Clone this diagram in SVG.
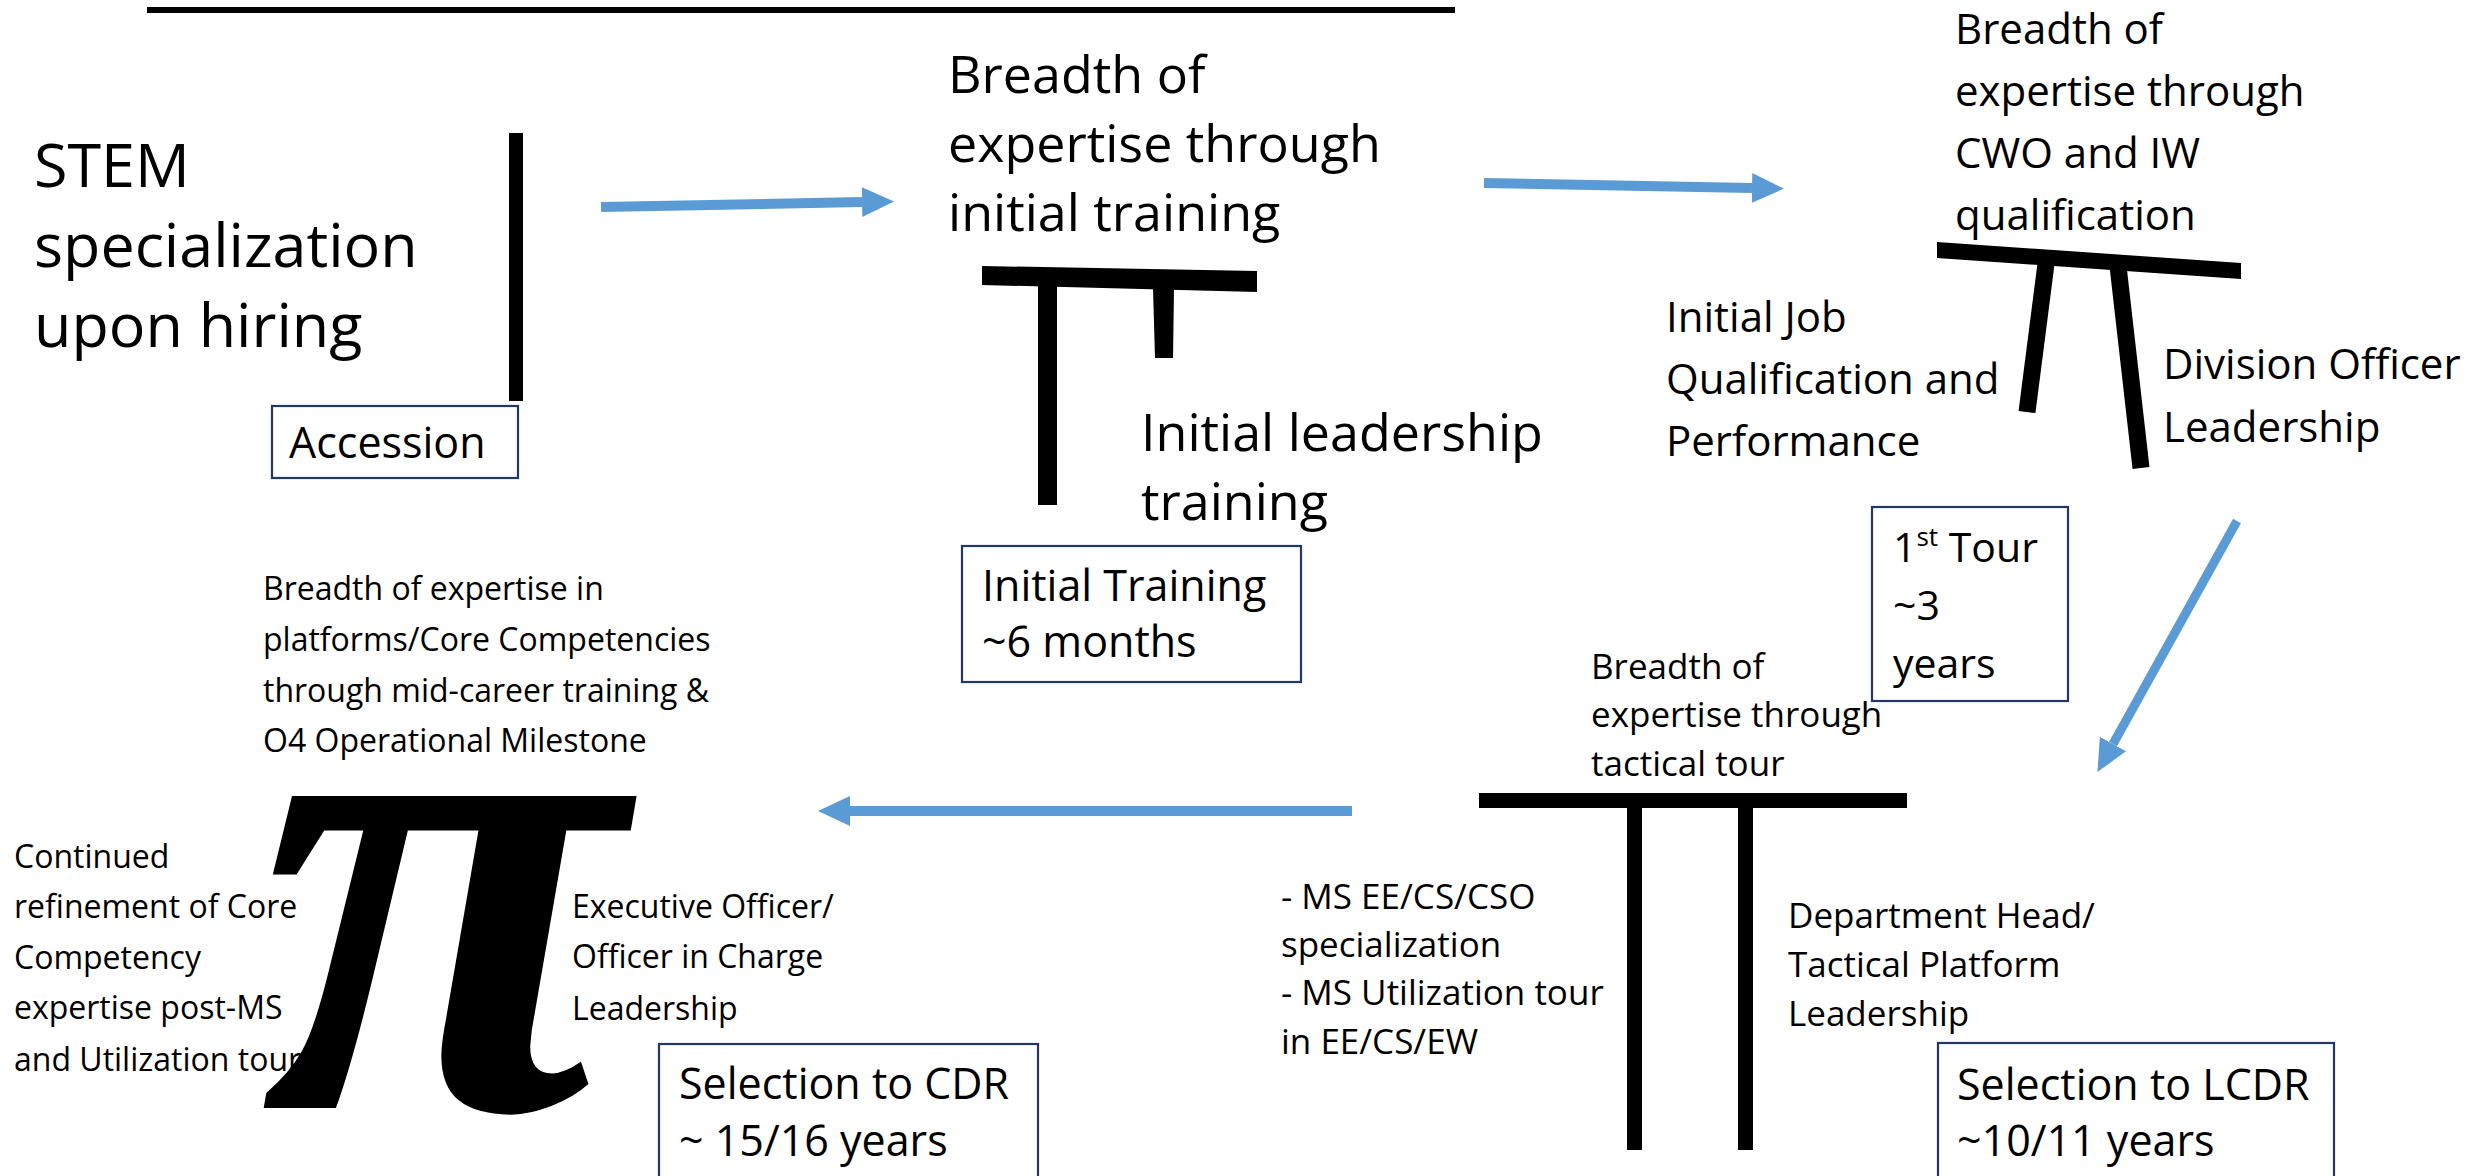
<svg xmlns="http://www.w3.org/2000/svg" width="2476" height="1176" viewBox="0 0 2476 1176">
<defs>
<style>
text{font-family:"Open Sans","Liberation Sans",sans-serif;fill:#000}
.xl{font-size:61px}
.l{font-size:52px}
.m{font-size:43px}
.mj{font-size:42px}
.mm{font-size:41px}
.s{font-size:35px}
.xs{font-size:32px}
.box{fill:#fff;stroke:#1F3864;stroke-width:2.2}
.blk{fill:#000}
.conn{stroke:#5B9BD5;stroke-width:10;fill:none}
.leg{stroke:#000;fill:none}
.pi{font-family:"Liberation Serif","DejaVu Serif",serif;font-style:italic;font-weight:bold;font-size:680px}
</style>
<marker id="ah" viewBox="0 0 32 30" refX="0" refY="15" markerWidth="32" markerHeight="30" markerUnits="userSpaceOnUse" orient="auto"><path d="M0,0 L32,15 L0,30 z" fill="#5B9BD5"/></marker>
</defs>
<rect width="2476" height="1176" fill="#fff"/>
<line x1="147" y1="10" x2="1455" y2="10" stroke="#000" stroke-width="6"/>

<g id="node-accession">
<text class="xl"><tspan x="34" y="187">STEM</tspan><tspan x="34" y="267">specialization</tspan><tspan x="34" y="347">upon hiring</tspan></text>
<rect class="blk" x="509" y="133" width="14" height="268"/>
<rect class="box" x="272" y="406" width="246" height="72"/>
<text class="m" x="289" y="458">Accession</text>
</g>

<g id="node-initial-training">
<text class="l"><tspan x="948" y="93">Breadth of</tspan><tspan x="948" y="162">expertise through</tspan><tspan x="948" y="231">initial training</tspan></text>
<polygon class="blk" points="982,266 1257,271 1257,292 982,285"/>
<rect class="blk" x="1038" y="280" width="19" height="225"/>
<polygon class="blk" points="1153,288 1174,289 1173,358 1155,358"/>
<text class="l"><tspan x="1141" y="451">Initial leadership</tspan><tspan x="1141" y="520">training</tspan></text>
<rect class="box" x="962" y="546" width="339" height="136"/>
<text class="m"><tspan x="982" y="601">Initial Training</tspan><tspan x="982" y="657">~6 months</tspan></text>
</g>

<g id="node-first-tour">
<text class="mj"><tspan x="1955" y="44">Breadth of</tspan><tspan x="1955" y="106">expertise through</tspan><tspan x="1955" y="168">CWO and IW</tspan><tspan x="1955" y="230">qualification</tspan></text>
<polygon class="blk" points="1937,242 2241,263 2241,279 1937,258"/>
<line class="leg" x1="2047" y1="256" x2="2027" y2="412" stroke-width="17"/>
<line class="leg" x1="2118" y1="266" x2="2141" y2="468" stroke-width="17"/>
<text class="mj"><tspan x="1666" y="332">Initial Job</tspan><tspan x="1666" y="394">Qualification and</tspan><tspan x="1666" y="456">Performance</tspan></text>
<text class="mj"><tspan x="2163" y="379">Division Officer</tspan><tspan x="2163" y="442">Leadership</tspan></text>
<rect class="box" x="1872" y="507" width="196" height="194"/>
<text class="mm"><tspan x="1893" y="562">1<tspan style="font-size:26px" dy="-16">st</tspan><tspan dy="16"> Tour</tspan></tspan><tspan x="1893" y="620">~3</tspan><tspan x="1893" y="678">years</tspan></text>
</g>

<g id="node-lcdr">
<text class="s"><tspan x="1591" y="679">Breadth of</tspan><tspan x="1591" y="727">expertise through</tspan><tspan x="1591" y="776">tactical tour</tspan></text>
<rect class="blk" x="1479" y="793" width="428" height="15"/>
<rect class="blk" x="1627" y="805" width="15" height="345"/>
<rect class="blk" x="1738" y="805" width="15" height="345"/>
<text class="s"><tspan x="1281" y="909">- MS EE/CS/CSO</tspan><tspan x="1281" y="957">specialization</tspan><tspan x="1281" y="1005">- MS Utilization tour</tspan><tspan x="1281" y="1054">in EE/CS/EW</tspan></text>
<text class="s"><tspan x="1788" y="928">Department Head/</tspan><tspan x="1788" y="977">Tactical Platform</tspan><tspan x="1788" y="1026">Leadership</tspan></text>
<rect class="box" x="1938" y="1043" width="396" height="200"/>
<text class="m"><tspan x="1957" y="1100">Selection to LCDR</tspan><tspan x="1957" y="1156">~10/11 years</tspan></text>
</g>

<g id="node-cdr">
<text class="xs"><tspan x="263" y="600">Breadth of expertise in</tspan><tspan x="263" y="651">platforms/Core Competencies</tspan><tspan x="263" y="702">through mid-career training &amp;</tspan><tspan x="263" y="752">O4 Operational Milestone</tspan></text>
<g transform="translate(280,0) scale(0.98,1) translate(-280,0)"><text class="pi" x="444" y="1108" text-anchor="middle">π</text></g>
<text class="xs"><tspan x="14" y="868">Continued</tspan><tspan x="14" y="918">refinement of Core</tspan><tspan x="14" y="969">Competency</tspan><tspan x="14" y="1019">expertise post-MS</tspan><tspan x="14" y="1071">and Utilization tour</tspan></text>
<text class="xs"><tspan x="572" y="918">Executive Officer/</tspan><tspan x="572" y="968">Officer in Charge</tspan><tspan x="572" y="1020">Leadership</tspan></text>
<rect class="box" x="659" y="1044" width="379" height="200"/>
<text class="m"><tspan x="679" y="1099">Selection to CDR</tspan><tspan x="679" y="1156">~ 15/16 years</tspan></text>
</g>

<g id="connectors">
<line class="conn" x1="601" y1="207" x2="862" y2="202" marker-end="url(#ah)"/>
<line class="conn" x1="1484" y1="183" x2="1752" y2="188" marker-end="url(#ah)"/>
<line class="conn" style="stroke-width:9" x1="2237" y1="521" x2="2113" y2="744" marker-end="url(#ah)"/>
<line class="conn" x1="1352" y1="811" x2="850" y2="811" marker-end="url(#ah)"/>
</g>
</svg>
